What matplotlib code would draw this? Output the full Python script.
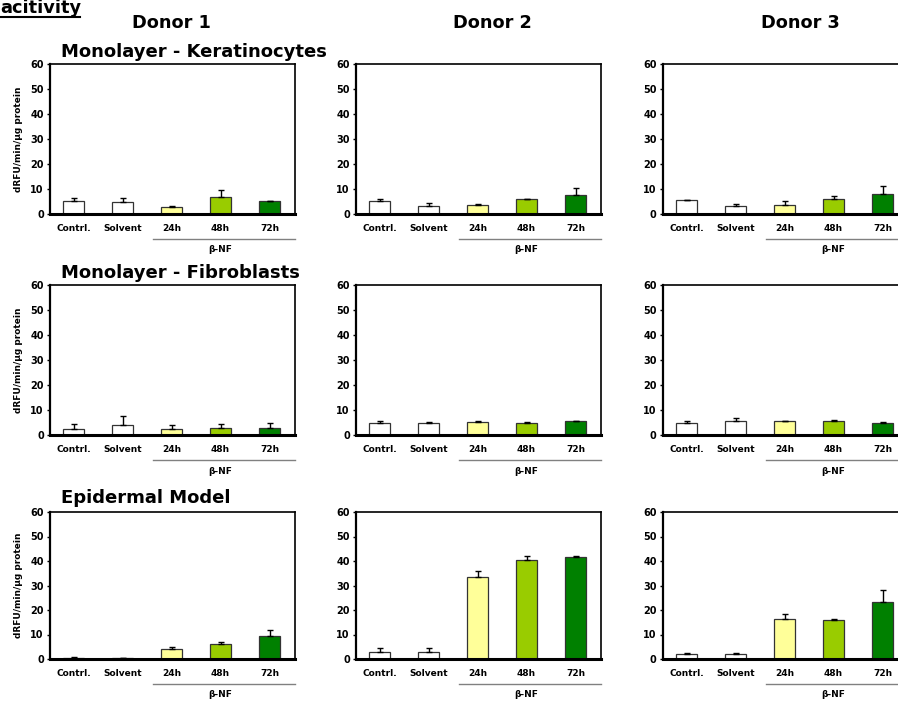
import matplotlib
matplotlib.use("Agg")
import matplotlib.pyplot as plt

# ---- data ----
groups = ["Contrl.", "Solvent", "24h", "48h", "72h"]
bar_colors = ["white", "white", "#FFFF99", "#99CC00", "#008000"]
donors = ["Donor 1", "Donor 2", "Donor 3"]
models = ["Monolayer - Keratinocytes", "Monolayer - Fibroblasts", "Epidermal Model"]

# means[row][donor]
kera_means = [[5.1, 4.8, 2.8, 6.7, 5.1],
              [5.3, 3.2, 3.5, 5.9, 7.7],
              [5.4, 3.2, 3.4, 5.9, 8.0]]
kera_err = [[1.4, 1.5, 0.4, 2.7, 0.1],
            [0.7, 1.2, 0.6, 0.2, 2.8],
            [0.3, 0.6, 1.9, 1.1, 3.3]]

fibro_means = [[2.3, 3.9, 2.3, 2.7, 2.9],
               [4.9, 4.9, 5.3, 4.9, 5.6],
               [4.8, 5.7, 5.7, 5.6, 5.0]]
fibro_err = [[2.1, 3.6, 1.8, 1.6, 2.0],
             [0.6, 0.2, 0.3, 0.4, 0.1],
             [0.8, 1.1, 0.1, 0.4, 0.3]]

epi_means = [[0.5, 0.3, 4.1, 6.1, 9.4],
             [2.9, 2.9, 33.4, 40.5, 41.6],
             [2.1, 2.1, 16.5, 16.1, 23.1]]
epi_err = [[0.2, 0.1, 0.6, 0.8, 2.3],
           [1.6, 1.6, 2.6, 1.5, 0.3],
           [0.5, 0.5, 1.8, 0.4, 5.1]]

all_means = [kera_means, fibro_means, epi_means]
all_err = [kera_err, fibro_err, epi_err]

# ---- layout in pixels ----
W, H = 898, 702
col_left = [50, 356, 663]
row_top = [64, 285, 512]
row_h = [150, 150, 147]
ax_w = 245

fig = plt.figure(figsize=(W / 100, H / 100), dpi=100)


def px_rect(left, top, w, h):
    return [left / W, 1 - (top + h) / H, w / W, h / H]


for r in range(3):
    for c in range(3):
        ax = fig.add_axes(px_rect(col_left[c], row_top[r], ax_w, row_h[r]))
        x = list(range(len(groups)))
        ax.bar(x, all_means[r][c], width=0.41, color=bar_colors,
               edgecolor="#333333", linewidth=0.9, zorder=2)
        ax.errorbar(x, all_means[r][c],
                    yerr=[[0] * 5, all_err[r][c]],
                    fmt="none", ecolor="black", elinewidth=1,
                    capsize=2.5, capthick=1, zorder=3)
        ax.set_xlim(-0.48, 4.52)
        ax.set_ylim(0, 60)
        ax.set_yticks([0, 10, 20, 30, 40, 50, 60])
        ax.set_xticks(x)
        ax.set_xticklabels(groups, fontsize=6.5, fontweight="bold")
        ax.tick_params(axis="x", length=0, pad=7)
        ax.tick_params(axis="y", length=2.5, width=1, pad=2, labelsize=7)
        for lab in ax.get_yticklabels():
            lab.set_fontweight("bold")
        for side in ["top", "right"]:
            ax.spines[side].set_linewidth(1.2)
        ax.spines["left"].set_linewidth(1.6)
        ax.spines["bottom"].set_linewidth(2.2)

        # beta-NF bracket line and label
        tr = ax.get_xaxis_transform()
        ax.plot([1.62, 4.52], [-0.167, -0.167], color="#808080", lw=1,
                transform=tr, clip_on=False)
        ax.text(3.0, -0.24, "β-NF", transform=tr, ha="center", va="center",
                fontsize=6.5, fontweight="bold")

        if c == 0:
            ax.set_ylabel("dRFU/min/µg protein", fontsize=6.5,
                          fontweight="bold", labelpad=5)

# ---- titles ----
fig.text(0, 1 - 13 / H, "acitivity", fontsize=12.8, fontweight="bold",
         ha="left", va="baseline")
fig.add_artist(plt.Line2D([0, 80 / W], [1 - 17 / H, 1 - 17 / H],
                          color="black", lw=1.5))

donor_x = [171, 492, 800]
for name, dx in zip(donors, donor_x):
    fig.text(dx / W, 1 - 28 / H, name, fontsize=12.8, fontweight="bold",
             ha="center", va="baseline")

model_base = [57, 278, 503]
for name, yb in zip(models, model_base):
    fig.text(61 / W, 1 - yb / H, name, fontsize=13, fontweight="bold",
             ha="left", va="baseline")

fig.savefig("out.png", dpi=100)
